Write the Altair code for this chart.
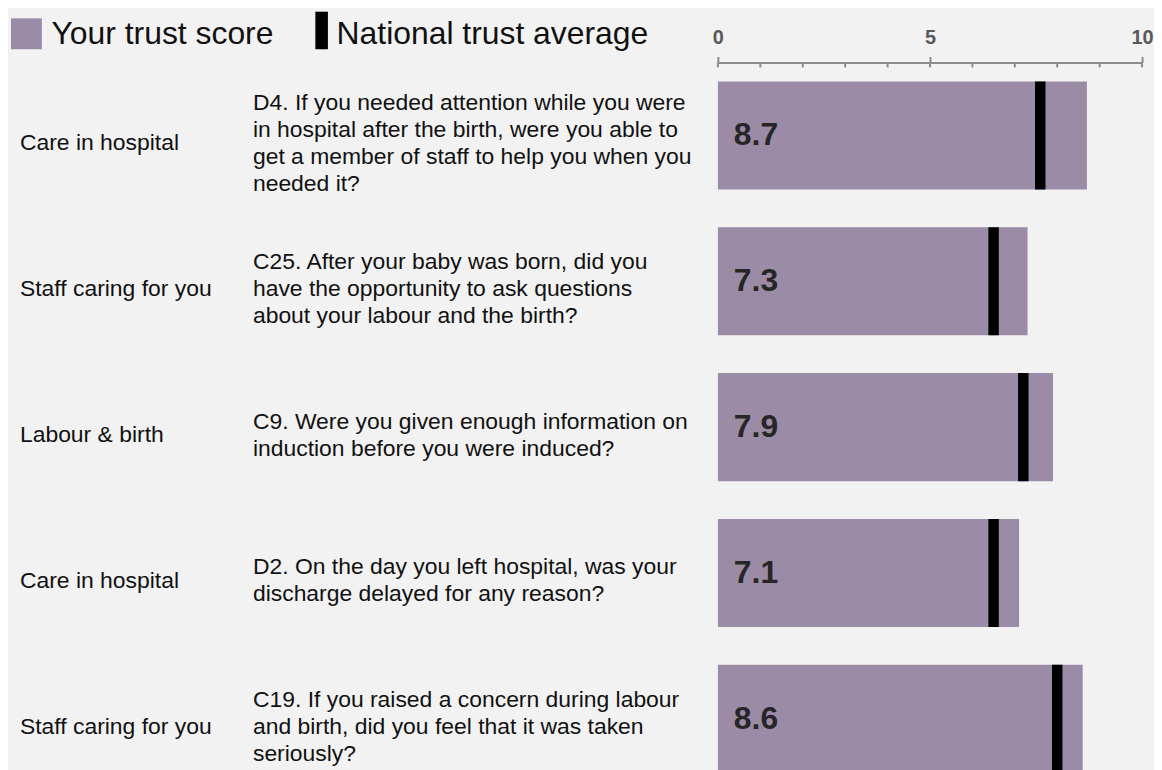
import altair as alt
import pandas as pd

# ---- data ----
categories = [
    "Care in hospital",
    "Staff caring for you",
    "Labour & birth",
    "Care in hospital",
    "Staff caring for you",
]
question_ids = ["D4", "C25", "C9", "D2", "C19"]
questions = [
    "D4. If you needed attention while you were\nin hospital after the birth, were you able to\nget a member of staff to help you when you\nneeded it?",
    "C25. After your baby was born, did you\nhave the opportunity to ask questions\nabout your labour and the birth?",
    "C9. Were you given enough information on\ninduction before you were induced?",
    "D2. On the day you left hospital, was your\ndischarge delayed for any reason?",
    "C19. If you raised a concern during labour\nand birth, did you feel that it was taken\nseriously?",
]
trust_scores = [8.7, 7.3, 7.9, 7.1, 8.6]
national_averages = [7.6, 6.5, 7.2, 6.5, 8.0]
axis_ticks = [0, 5, 10]
minor_ticks = [0, 1, 2, 3, 4, 5, 6, 7, 8, 9, 10]
legend_labels = ["Your trust score", "National trust average"]

PURPLE = "#9b8ba6"
FONT = "Liberation Sans"
TEXT = "#111111"
AXIS_GREY = "#8c8c8c"
LINE_H = 27
TEXT_DY = 8

df = pd.DataFrame({
    "qid": question_ids,
    "category": categories,
    "question": questions,
    "score": trust_scores,
    "national": national_averages,
})

x_scale = alt.Scale(domain=[0, 10], nice=False, zero=True)
x_axis = alt.Axis(
    orient="top", values=axis_ticks, title=None, grid=False, format="d",
    labelFont=FONT, labelFontSize=20, labelFontWeight="bold", labelColor="#595959",
    labelPadding=9, labelFlush=False,
    domainColor=AXIS_GREY, domainWidth=2,
    tickColor=AXIS_GREY, tickWidth=2, tickSize=6,
)
y_enc = alt.Y(
    "qid:N", sort=question_ids, axis=None,
    scale=alt.Scale(range=[0, 732.5], paddingInner=0.259, paddingOuter=0.13),
)

base = alt.Chart(df)

bars = base.mark_bar(color=PURPLE).encode(
    x=alt.X("score:Q", scale=x_scale, axis=x_axis),
    y=y_enc,
)

national = base.mark_tick(
    color="black", opacity=1, thickness=10.5, size=108.5, orient="vertical"
).encode(
    x=alt.X("national:Q", scale=x_scale, axis=x_axis),
    y=y_enc,
)

score_labels = base.mark_text(
    align="left", baseline="middle", dx=16, font=FONT, fontSize=32,
    fontWeight="bold", color="#262626",
).encode(
    x=alt.value(0),
    y=y_enc,
    text=alt.Text("score:Q", format=".1f"),
)

category_text = base.mark_text(
    align="left", baseline="middle", dy=TEXT_DY, font=FONT, fontSize=23, color=TEXT,
).encode(
    x=alt.value(-701),
    y=y_enc,
    text="category:N",
)

# multi-line question text, vertically centred on each row (one layer per line count)
question_layers = []
for n_lines in (1, 2, 3, 4):
    question_layers.append(
        base.transform_filter(
            f"split(datum.question, '\\n').length == {n_lines}"
        ).mark_text(
            align="left", baseline="middle", dy=TEXT_DY - (n_lines - 1) * LINE_H / 2,
            font=FONT, fontSize=23, color=TEXT, lineBreak="\n", lineHeight=LINE_H,
        ).encode(
            x=alt.value(-467),
            y=y_enc,
            text="question:N",
        )
    )

minor = alt.Chart(pd.DataFrame({"t": minor_ticks})).mark_rule(
    color=AXIS_GREY, strokeWidth=2
).encode(
    x=alt.X("t:Q", scale=x_scale, axis=x_axis),
    y=alt.value(0),
    y2=alt.value(5),
)

one = pd.DataFrame({"k": [0]})
leg_square = alt.Chart(one).mark_rect(color=PURPLE).encode(
    x=alt.value(-710), x2=alt.value(-679), y=alt.value(-44.3), y2=alt.value(-13.3)
)
leg_bar = alt.Chart(one).mark_rect(color="black").encode(
    x=alt.value(-404.3), x2=alt.value(-391.7), y=alt.value(-51), y2=alt.value(-13.3)
)
leg_text1 = alt.Chart(one).mark_text(
    align="left", baseline="alphabetic", font=FONT, fontSize=32, color=TEXT,
    text=legend_labels[0],
).encode(x=alt.value(-669.3), y=alt.value(-18.3))
leg_text2 = alt.Chart(one).mark_text(
    align="left", baseline="alphabetic", font=FONT, fontSize=32, color=TEXT,
    text=legend_labels[1],
).encode(x=alt.value(-383), y=alt.value(-18.3))

chart = alt.layer(
    bars, national, score_labels, category_text, *question_layers, minor,
    leg_square, leg_bar, leg_text1, leg_text2,
).properties(
    width=426,
    height=732,
    padding={"left": 713, "top": 53, "right": 12, "bottom": 0},
    autosize=alt.AutoSizeParams(type="none"),
).configure(
    background="#f2f2f2",
).configure_view(
    stroke=None,
)

chart.save("out.html", embed_options={"renderer": "svg", "actions": False})
